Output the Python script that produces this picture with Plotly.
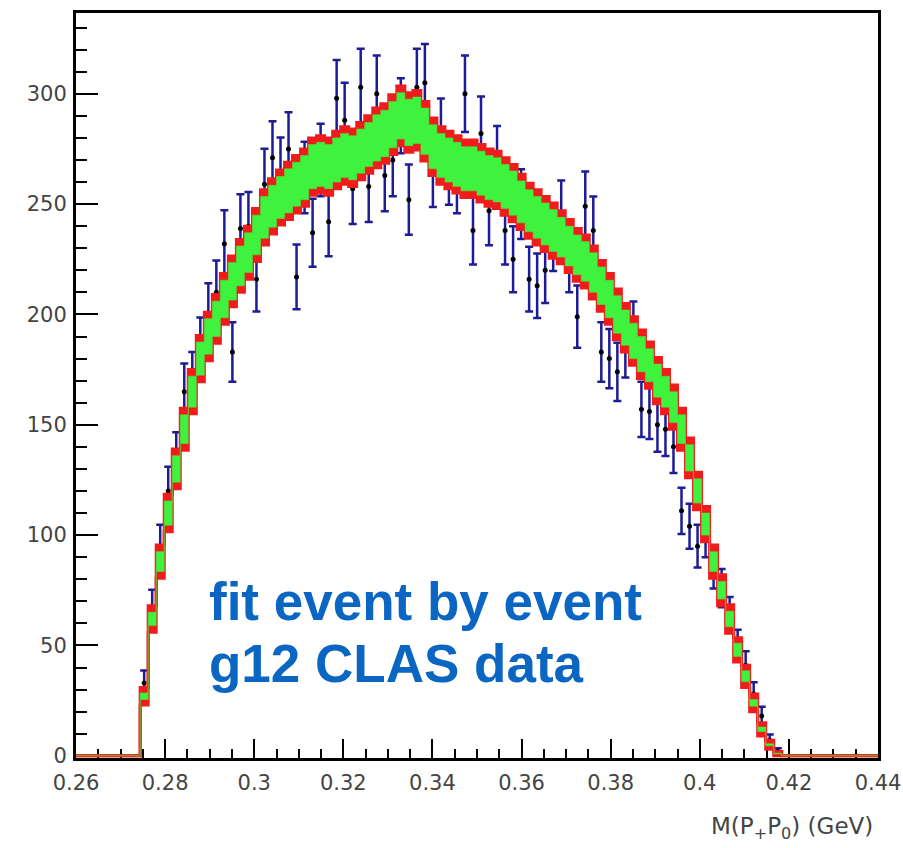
import plotly.graph_objects as go

# Histogram binning (ROOT style: 100 bins from 0.26 to 0.44)
hist_lo = 0.26
hist_bw = 0.0018
n_bins = 100
first_bin = 8  # first non-empty bin

# Data (g12 CLAS) per non-empty bin
data_vals = [33, 67, 95, 120, 135, 165, 170, 185, 200, 210,
             232, 183, 239, 240, 216, 259, 271, 264, 275, 217,
             262, 237, 270, 242, 298, 288, 257, 303, 258, 300,
             263, 270, 290, 252, 303, 305, 265, 281, 266, 262,
             300, 238, 282, 247, 269, 238, 225, 250, 216, 213,
             220, 235, 245, 225, 199, 249, 238, 183, 180, 174,
             185, 192, 157, 156, 150, 148, 140, 111, 104, 95,
             100, 85, 76, 64, 50, 41, 28, 18, 7, 2]
data_errs = [5.7, 8.2, 9.7, 11.0, 11.6, 12.8, 13.0, 13.6, 14.1, 14.5,
             15.2, 13.5, 15.5, 15.5, 14.7, 16.1, 16.5, 16.2, 16.6, 14.7,
             16.2, 15.4, 16.4, 15.6, 17.3, 17.0, 16.0, 17.4, 16.1, 17.3,
             16.2, 16.4, 17.0, 15.9, 17.4, 17.5, 16.3, 16.8, 16.3, 16.2,
             17.3, 15.4, 16.8, 15.7, 16.4, 15.4, 15.0, 15.8, 14.7, 14.6,
             14.8, 15.3, 15.7, 15.0, 14.1, 15.8, 15.4, 13.5, 13.4, 13.2,
             13.6, 13.9, 12.5, 12.5, 12.2, 12.2, 11.8, 10.5, 10.2, 9.7,
             10.0, 9.2, 8.7, 8.0, 7.1, 6.4, 5.3, 4.2, 2.6, 1.4]

# Event-by-event fit result (band centre) and band half-widths
fit_vals = [27, 62, 88, 110, 130, 148, 165, 180, 190, 198,
            207, 215, 222, 228, 236, 244, 249, 253, 256, 259,
            262, 267, 268, 267, 270, 272, 271, 274, 277, 280,
            282, 286, 290, 287, 288, 283, 276, 272, 270, 268,
            266, 266, 264, 262, 261, 258, 255, 251, 247, 244,
            241, 238, 235, 231, 227, 224, 219, 213, 207, 200,
            194, 188, 182, 177, 170, 165, 158, 148, 135, 120,
            105, 88, 75, 62, 48, 36, 24, 12, 5, 1]
red_err = [4, 6, 7.5, 8.5, 9, 9.5, 10, 10.5, 11, 11,
           11.5, 11.5, 12, 12, 12, 12.5, 12.5, 12.5, 13, 13,
           13, 13, 13, 13, 13, 13, 13, 13, 13, 13.5,
           13.5, 13.5, 13.5, 13.5, 13.5, 13.5, 13, 13, 13, 13,
           13, 13, 13, 13, 13, 13, 13, 12.5, 12.5, 12.5,
           12.5, 12.5, 12, 12, 12, 12, 12, 11.5, 11.5, 11.5,
           11, 11, 11, 10.5, 10.5, 10, 10, 9.5, 9, 8.5,
           8, 7.5, 7, 6.5, 5.5, 5, 4, 3, 2, 1]
green_err = [1.5, 3, 4.5, 5.5, 6, 6.5, 7, 7.5, 8, 8,
             8.5, 8.5, 9, 9, 9, 9.5, 9.5, 9.5, 10, 10,
             10, 10, 10, 10, 10, 10, 10, 10, 10, 10.5,
             10.5, 10.5, 10.5, 10.5, 10.5, 10.5, 10, 10, 10, 10,
             10, 10, 10, 10, 10, 10, 10, 9.5, 9.5, 9.5,
             9.5, 9.5, 9, 9, 9, 9, 9, 8.5, 8.5, 8.5,
             8, 8, 8, 7.5, 7.5, 7, 7, 6.5, 6, 5.5,
             5, 4.5, 4, 3.5, 3, 2.5, 1.5, 1, 0.5, 0.2]

n_data = len(data_vals)
edges = [hist_lo + hist_bw * k for k in range(n_bins + 1)]
centers = [hist_lo + hist_bw * (first_bin + i + 0.5) for i in range(n_data)]


def full(vals):
    out = [0.0] * n_bins
    for i, v in enumerate(vals):
        out[first_bin + i] = v
    return out


def step_y(vals):
    return list(vals) + [vals[-1]]


fit_full = full(fit_vals)
red_full = full(red_err)
green_full = full(green_err)
red_lo = [max(f - e, 0) for f, e in zip(fit_full, red_full)]
red_hi = [f + e for f, e in zip(fit_full, red_full)]
green_lo = [max(f - e, 0) for f, e in zip(fit_full, green_full)]
green_hi = [f + e for f, e in zip(fit_full, green_full)]

RED = "#f01c1c"
GREEN = "#3ef23e"
NAVY = "#1c1c96"

fig = go.Figure()

# data points with error bars
fig.add_trace(go.Scatter(
    x=centers, y=data_vals, mode="markers",
    marker=dict(color="black", size=5),
    error_y=dict(type="data", array=data_errs, color=NAVY, thickness=2.5, width=4),
    showlegend=False,
))

# red band
fig.add_trace(go.Scatter(x=edges, y=step_y(red_lo), mode="lines",
                         line=dict(color=RED, width=3, shape="hv"), showlegend=False))
fig.add_trace(go.Scatter(x=edges, y=step_y(red_hi), mode="lines", fill="tonexty",
                         fillcolor=RED, line=dict(color=RED, width=3, shape="hv"),
                         showlegend=False))
# green band
fig.add_trace(go.Scatter(x=edges, y=step_y(green_lo), mode="lines",
                         line=dict(color=GREEN, width=0.5, shape="hv"), showlegend=False))
fig.add_trace(go.Scatter(x=edges, y=step_y(green_hi), mode="lines", fill="tonexty",
                         fillcolor=GREEN,
                         line=dict(color=GREEN, width=0.5, shape="hv"), showlegend=False))

tick_font = dict(family="DejaVu Sans, Liberation Sans, Arial, sans-serif", size=21, color="#444444")

fig.update_xaxes(
    range=[0.26, 0.44], dtick=0.02, tick0=0.26,
    showline=True, linecolor="black", linewidth=3, mirror=True,
    ticks="inside", ticklen=19, tickwidth=2, tickcolor="black",
    minor=dict(dtick=0.005, ticks="inside", ticklen=9, tickwidth=2, tickcolor="black"),
    showgrid=False, zeroline=False, tickfont=tick_font, ticklabelstandoff=4,
    layer="below traces", automargin=False,
)
fig.update_yaxes(
    range=[-1, 336.6], dtick=50, tick0=0,
    showline=True, linecolor="black", linewidth=3, mirror=True,
    ticks="inside", ticklen=22, tickwidth=2, tickcolor="black",
    minor=dict(dtick=10, ticks="inside", ticklen=11, tickwidth=2, tickcolor="black"),
    showgrid=False, zeroline=False, tickfont=tick_font, ticklabelstandoff=2,
    layer="below traces", automargin=False,
)

blue = "#0a66c2"
fig.add_annotation(x=0.2894, y=70, xref="x", yref="y", text="<b>fit event by event</b>",
                   showarrow=False, xanchor="left", yanchor="middle",
                   font=dict(family="Liberation Sans, Arial, sans-serif", size=53, color=blue))
fig.add_annotation(x=0.2894, y=42, xref="x", yref="y", text="<b>g12 CLAS data</b>",
                   showarrow=False, xanchor="left", yanchor="middle",
                   font=dict(family="Liberation Sans, Arial, sans-serif", size=53, color=blue))
fig.add_annotation(x=1.0, y=-0.094, xref="paper", yref="paper",
                   text="M(P<sub>+</sub>P<sub>0</sub>) (GeV)", showarrow=False,
                   xanchor="right", yanchor="middle", xshift=-3,
                   font=dict(family="DejaVu Sans, Liberation Sans, Arial, sans-serif", size=23, color="#444444"))

fig.update_layout(
    width=903, height=848,
    margin=dict(l=76, r=25, t=13, b=90),
    paper_bgcolor="white", plot_bgcolor="white",
    showlegend=False,
)

fig.write_html("out.html")
